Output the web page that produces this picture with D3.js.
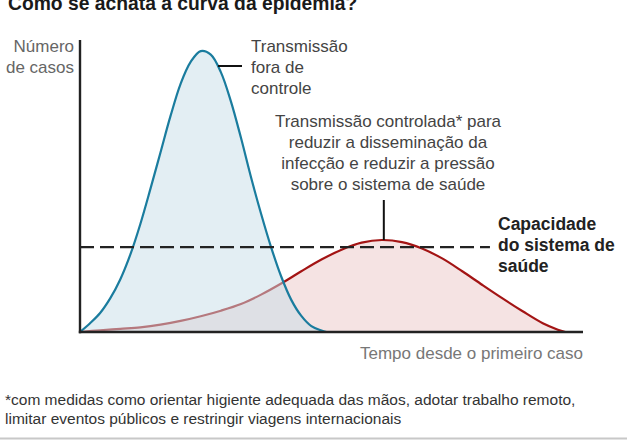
<!DOCTYPE html>
<html><head><meta charset="utf-8">
<script src="https://cdn.jsdelivr.net/npm/d3@7"></script>
<style>
body{margin:0;background:#fff;}
svg{display:block;font-family:"Liberation Sans",Arial,Helvetica,sans-serif;}
</style></head>
<body>
<svg id="c" width="627" height="440"></svg>
<script>
// Data (time since first case, arbitrary units 0-100; cases, arbitrary units 0-100)
const blueTime  = [0,2,4,6,8,10,12,14,16,18,20,22,24,26,28,30,32,34,36,38,40,42,44,46,48,49];
const blueCases = [0,3,6.5,11.5,18,26.5,37,49,61.5,74,85,92.5,96.2,95,89,79,66.5,53,40.5,29,19,11,5.5,2,0.5,0];
const redTime   = [0,4,8,12,16,20,24,28,32,36,40,44,48,52,56,60,64,68,72,76,80,84,88,92,95,96.5];
const redCases  = [0,0.6,1.1,1.6,2.5,3.8,5.4,7.3,9.6,12.8,16.6,20.8,24.8,28.2,30.6,31.5,30.8,28.6,25.2,20.8,16.1,11.5,7.1,3,0.8,0];
const capacity = 29.1;
const capacityEnd = 81.5;

const title = "Como se achata a curva da epidemia?";
const yLabel = ["Número", "de casos"];
const xLabel = "Tempo desde o primeiro caso";
const blueLabel = ["Transmissão", "fora de", "controle"];
const redLabel = ["Transmissão controlada* para", "reduzir a disseminação da", "infecção e reduzir a pressão", "sobre o sistema de saúde"];
const capLabel = ["Capacidade", "do sistema de", "saúde"];
const footnote = ["*com medidas como orientar higiente adequada das mãos, adotar trabalho remoto,",
                  "limitar eventos públicos e restringir viagens internacionais"];

const svg = d3.select("#c");
const x = d3.scaleLinear().domain([0,100]).range([80,583]);
const y = d3.scaleLinear().domain([0,100]).range([332,40]);

const blue = blueTime.map((t,i)=>[t,blueCases[i]]);
const red = redTime.map((t,i)=>[t,redCases[i]]);
const curve = d3.curveCatmullRom.alpha(0.5);
const area = d3.area().x(d=>x(d[0])).y0(y(0)).y1(d=>y(d[1])).curve(curve);
const line = d3.line().x(d=>x(d[0])).y(d=>y(d[1])).curve(curve);

// title
svg.append("text").attr("x",8).attr("y",10).attr("font-size",19.3).attr("font-weight","bold")
  .attr("fill","#1a1a1a").text(title);

// red area + line
svg.append("path").datum(red).attr("d",area).attr("fill","#f5e3e3");
svg.append("path").datum(red).attr("d",line).attr("fill","none").attr("stroke","#a31414").attr("stroke-width",2.2);
// blue area (semi transparent) + line
svg.append("path").datum(blue).attr("d",area).attr("fill","rgb(200,222,231)").attr("fill-opacity",0.5);
svg.append("path").datum(blue).attr("d",line).attr("fill","none").attr("stroke","#1a7c9e").attr("stroke-width",2.2);

// capacity dashed line
svg.append("line").attr("x1",x(0)).attr("x2",x(capacityEnd)).attr("y1",y(capacity)).attr("y2",y(capacity))
  .attr("stroke","#222").attr("stroke-width",2.2).attr("stroke-dasharray","14,6");

// axes
svg.append("line").attr("x1",x(0)).attr("x2",x(0)).attr("y1",40).attr("y2",y(0)+1.2)
  .attr("stroke","#222").attr("stroke-width",2.4);
svg.append("line").attr("x1",x(0)-1.2).attr("x2",x(100)).attr("y1",y(0)).attr("y2",y(0))
  .attr("stroke","#222").attr("stroke-width",2.6);

// y label
svg.append("text").attr("text-anchor","end").attr("font-size",17).attr("fill","#666")
  .selectAll("tspan").data(yLabel).join("tspan").attr("x",74).attr("y",(d,i)=>52+i*21).text(d=>d);
// x label
svg.append("text").attr("text-anchor","end").attr("font-size",17).attr("fill","#777")
  .attr("x",583).attr("y",359).text(xLabel);

// blue annotation
svg.append("line").attr("x1",218).attr("x2",242).attr("y1",66).attr("y2",66).attr("stroke","#111").attr("stroke-width",2);
svg.append("text").attr("font-size",17).attr("fill","#444")
  .selectAll("tspan").data(blueLabel).join("tspan").attr("x",251).attr("y",(d,i)=>52+i*21).text(d=>d);

// red annotation
svg.append("text").attr("text-anchor","middle").attr("font-size",17).attr("fill","#444")
  .selectAll("tspan").data(redLabel).join("tspan").attr("x",388).attr("y",(d,i)=>127+i*21).text(d=>d);
svg.append("line").attr("x1",x(60.4)).attr("x2",x(60.4)).attr("y1",200).attr("y2",y(31.5)).attr("stroke","#111").attr("stroke-width",2);

// capacity label
svg.append("text").attr("font-size",17.5).attr("font-weight","bold").attr("fill","#222")
  .selectAll("tspan").data(capLabel).join("tspan").attr("x",498).attr("y",(d,i)=>230+i*21).text(d=>d);

// footnote
svg.append("text").attr("font-size",15.5).attr("fill","#333")
  .selectAll("tspan").data(footnote).join("tspan").attr("x",5).attr("y",(d,i)=>405+i*19).text(d=>d);

// bottom rule
svg.append("line").attr("x1",0).attr("x2",627).attr("y1",438.5).attr("y2",438.5).attr("stroke","#c8c8c8").attr("stroke-width",2);
</script>
</body></html>
